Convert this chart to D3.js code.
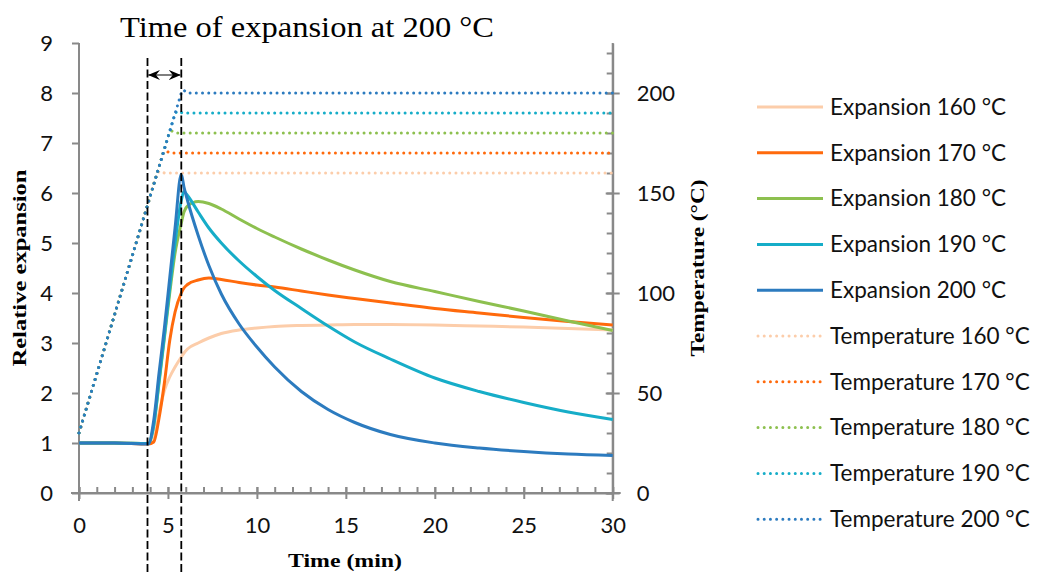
<!DOCTYPE html>
<html>
<head>
<meta charset="utf-8">
<script src="https://cdn.jsdelivr.net/npm/d3@7"></script>
<style>
  html, body { margin: 0; padding: 0; background: #fff; }
  svg { display: block; }
</style>
</head>
<body>
<svg id="chart" width="1040" height="573"></svg>
<script>
// Sampling times (min) shared by the expansion curves
const minutes = [0, 2, 3.9, 4.2, 4.5, 4.8, 5.1, 5.4, 5.75, 5.9, 6.1, 6.7, 7.3, 8, 9, 10, 11, 12.5, 14, 15.5, 17.5, 20, 22.5, 25, 27.5, 30];

// Relative expansion for each oven temperature
const exp160 = [1, 1, 0.99, 1.08, 1.6, 2.05, 2.32, 2.52, 2.72, 2.8, 2.88, 3.0, 3.1, 3.19, 3.26, 3.3, 3.33, 3.35, 3.36, 3.37, 3.37, 3.36, 3.34, 3.32, 3.29, 3.26];
const exp170 = [1, 1, 0.98, 1.02, 1.5, 2.2, 3.05, 3.62, 4.0, 4.1, 4.17, 4.26, 4.3, 4.27, 4.21, 4.16, 4.12, 4.04, 3.96, 3.89, 3.8, 3.69, 3.6, 3.51, 3.43, 3.36];
const exp180 = [1, 1, 0.99, 1.35, 2.2, 3.1, 4.0, 4.8, 5.4, 5.62, 5.74, 5.83, 5.79, 5.68, 5.48, 5.29, 5.12, 4.88, 4.66, 4.46, 4.23, 4.03, 3.83, 3.64, 3.44, 3.25];
const exp190 = [1, 1, 0.99, 1.35, 2.25, 3.15, 4.1, 5.0, 5.85, 6.03, 5.95, 5.62, 5.3, 5.0, 4.64, 4.33, 4.05, 3.69, 3.34, 3.02, 2.68, 2.3, 2.03, 1.81, 1.62, 1.47];
const exp200 = [1, 1, 0.98, 1.45, 2.4, 3.3, 4.3, 5.3, 6.38, 6.12, 5.85, 5.15, 4.55, 3.98, 3.38, 2.92, 2.52, 2.03, 1.67, 1.41, 1.17, 1.0, 0.9, 0.83, 0.78, 0.75];

// Oven temperature profiles: [time (min), temperature (°C)]
const temp160 = [[0, 30], [4.4, 160], [4.55, 161], [4.8, 160], [30, 160]];
const temp170 = [[0, 30], [4.73, 170], [4.88, 171], [5.13, 170], [30, 170]];
const temp180 = [[0, 30], [5.07, 180], [5.22, 181], [5.47, 180], [30, 180]];
const temp190 = [[0, 30], [5.41, 190], [5.56, 191], [5.81, 190], [30, 190]];
const temp200 = [[0, 30], [5.75, 200], [5.87, 201.5], [6.1, 200], [30, 200]];

const setpointLabels = ["160 °C", "170 °C", "180 °C", "190 °C", "200 °C"];

// Axis ticks
const timeTicks = [0, 5, 10, 15, 20, 25, 30];
const timeMinorTicks = d3.range(0, 31, 1);
const expansionTicks = [0, 1, 2, 3, 4, 5, 6, 7, 8, 9];
const tempTicks = [0, 50, 100, 150, 200];
const tempMinorTicks = d3.range(0, 230, 10);

// Start of expansion and end of the heating ramp at 200 °C
const markerMinutes = [3.85, 5.75];

const colors = ["#fccdaa", "#ff6a0c", "#8dc04f", "#16adc8", "#2c7bbf"];
const axisColor = "#898989";
const labelFont = "Lato, 'Open Sans', sans-serif";
const serifFont = "'Liberation Serif', 'Times New Roman', serif";

const svg = d3.select("#chart");

const x = d3.scaleLinear().domain([0, 30]).range([79, 612.7]);
const y = d3.scaleLinear().domain([0, 9]).range([493, 43]);
const yT = d3.scaleLinear().domain([0, 225]).range([493, 43]);

// ---- axes ----
function styleAxis(g) {
  g.select(".domain").attr("stroke", axisColor).attr("stroke-width", 2);
  g.selectAll(".tick line").attr("stroke", axisColor).attr("stroke-width", 2);
  g.selectAll("text").attr("fill", "#111").attr("font-family", labelFont).attr("font-size", 22);
}

// bottom: minor ticks inward, major ticks crossing
svg.append("g")
  .attr("transform", `translate(0,${y(0)})`)
  .call(d3.axisBottom(x).tickValues(timeMinorTicks).tickSizeInner(-6).tickSizeOuter(0).tickFormat(""))
  .call(styleAxis);

const xAxis = svg.append("g")
  .attr("transform", `translate(0,${y(0)})`)
  .call(d3.axisBottom(x).tickValues(timeTicks).tickSizeInner(6).tickSizeOuter(0).tickPadding(18))
  .call(styleAxis);
xAxis.selectAll(".tick line").attr("y1", -6);
xAxis.select(".domain").attr("d", `M${x(0) - 8},0H${x(30) + 8}`);

// left axis
const yAxis = svg.append("g")
  .attr("transform", `translate(${x(0)},0)`)
  .call(d3.axisLeft(y).tickValues(expansionTicks).tickSizeInner(7).tickSizeOuter(0).tickPadding(19))
  .call(styleAxis);
yAxis.select(".domain").attr("d", `M0,${y(0) + 8}V${y(9)}`);

// right axis: minor ticks inward, major ticks crossing
svg.append("g")
  .attr("transform", `translate(${x(30)},0)`)
  .call(d3.axisRight(yT).tickValues(tempMinorTicks).tickSizeInner(-6).tickSizeOuter(0).tickFormat(""))
  .call(styleAxis);
const yAxisR = svg.append("g")
  .attr("transform", `translate(${x(30)},0)`)
  .call(d3.axisRight(yT).tickValues(tempTicks).tickSizeInner(7).tickSizeOuter(0).tickPadding(17))
  .call(styleAxis);
yAxisR.selectAll(".tick line").attr("x1", -7);
yAxisR.select(".domain").attr("d", `M0,${yT(0) + 8}V${yT(225)}`);

// ---- series ----
const expLine = d3.line().x(d => x(d[0])).y(d => y(d[1])).curve(d3.curveMonotoneX);
const tempLine = d3.line().x(d => x(d[0])).y(d => yT(d[1])).curve(d3.curveLinear);

const expansions = [exp160, exp170, exp180, exp190, exp200];
const temperatures = [temp160, temp170, temp180, temp190, temp200];

expansions.forEach((vals, i) => {
  svg.append("path")
    .datum(minutes.map((t, k) => [t, vals[k]]))
    .attr("d", expLine)
    .attr("fill", "none")
    .attr("stroke", colors[i])
    .attr("stroke-width", 3)
    .attr("stroke-linejoin", "round");
});

temperatures.forEach((pts, i) => {
  svg.append("path")
    .datum(pts)
    .attr("d", tempLine)
    .attr("fill", "none")
    .attr("stroke", colors[i])
    .attr("stroke-width", 3)
    .attr("stroke-linecap", "round")
    .attr("stroke-linejoin", "round")
    .attr("stroke-dasharray", "0.01 6.2");
});

// ---- expansion-time markers ----
markerMinutes.forEach(t => {
  svg.append("line")
    .attr("x1", x(t)).attr("x2", x(t))
    .attr("y1", 58).attr("y2", 573)
    .attr("stroke", "#000")
    .attr("stroke-width", 1.8)
    .attr("stroke-dasharray", "8 3.5");
});

const defs = svg.append("defs");
["arrowStart", "arrowEnd"].forEach((id, i) => {
  defs.append("marker")
    .attr("id", id)
    .attr("viewBox", "0 0 12 10")
    .attr("refX", i === 0 ? 0 : 12)
    .attr("refY", 5)
    .attr("markerWidth", 12)
    .attr("markerHeight", 10)
    .attr("markerUnits", "userSpaceOnUse")
    .attr("orient", "auto")
    .append("path")
    .attr("d", i === 0 ? "M0,5 L12,0 L8,5 L12,10 Z" : "M12,5 L0,0 L4,5 L0,10 Z")
    .attr("fill", "#000");
});

svg.append("line")
  .attr("x1", x(markerMinutes[0]) + 0.5).attr("x2", x(markerMinutes[1]) - 0.5)
  .attr("y1", 75).attr("y2", 75)
  .attr("stroke", "#555")
  .attr("stroke-width", 1.5)
  .attr("marker-start", "url(#arrowStart)")
  .attr("marker-end", "url(#arrowEnd)");

// ---- titles ----
svg.append("text")
  .attr("x", 307).attr("y", 37)
  .attr("text-anchor", "middle")
  .attr("font-family", serifFont)
  .attr("font-size", 29)
  .attr("textLength", 374)
  .attr("lengthAdjust", "spacingAndGlyphs")
  .attr("fill", "#000")
  .text("Time of expansion at 200 °C");

svg.append("text")
  .attr("transform", "translate(26,268) rotate(-90)")
  .attr("text-anchor", "middle")
  .attr("font-family", serifFont)
  .attr("font-weight", "bold")
  .attr("font-size", 19)
  .attr("textLength", 197)
  .attr("lengthAdjust", "spacingAndGlyphs")
  .attr("fill", "#000")
  .text("Relative expansion");

svg.append("text")
  .attr("transform", "translate(704,268) rotate(-90)")
  .attr("text-anchor", "middle")
  .attr("font-family", serifFont)
  .attr("font-weight", "bold")
  .attr("font-size", 19)
  .attr("textLength", 177)
  .attr("lengthAdjust", "spacingAndGlyphs")
  .attr("fill", "#000")
  .text("Temperature (°C)");

svg.append("text")
  .attr("x", 345).attr("y", 567)
  .attr("text-anchor", "middle")
  .attr("font-family", serifFont)
  .attr("font-weight", "bold")
  .attr("font-size", 19)
  .attr("textLength", 114)
  .attr("lengthAdjust", "spacingAndGlyphs")
  .attr("fill", "#000")
  .text("Time (min)");

// ---- legend ----
const legendItems = [
  ...setpointLabels.map((s, i) => ({ label: "Expansion " + s, color: colors[i], dotted: false })),
  ...setpointLabels.map((s, i) => ({ label: "Temperature " + s, color: colors[i], dotted: true }))
];
const legend = svg.append("g");
legendItems.forEach((item, i) => {
  const ly = 107 + i * 45.8;
  legend.append("line")
    .attr("x1", item.dotted ? 758 : 757).attr("x2", 823)
    .attr("y1", ly).attr("y2", ly)
    .attr("stroke", item.color)
    .attr("stroke-width", 3)
    .attr("stroke-linecap", item.dotted ? "round" : "butt")
    .attr("stroke-dasharray", item.dotted ? "0.01 6.2" : null);
  legend.append("text")
    .attr("x", 830).attr("y", ly)
    .attr("dy", "0.35em")
    .attr("font-family", labelFont)
    .attr("font-size", 22.5)
    .attr("fill", "#111")
    .text(item.label);
});
</script>
</body>
</html>
